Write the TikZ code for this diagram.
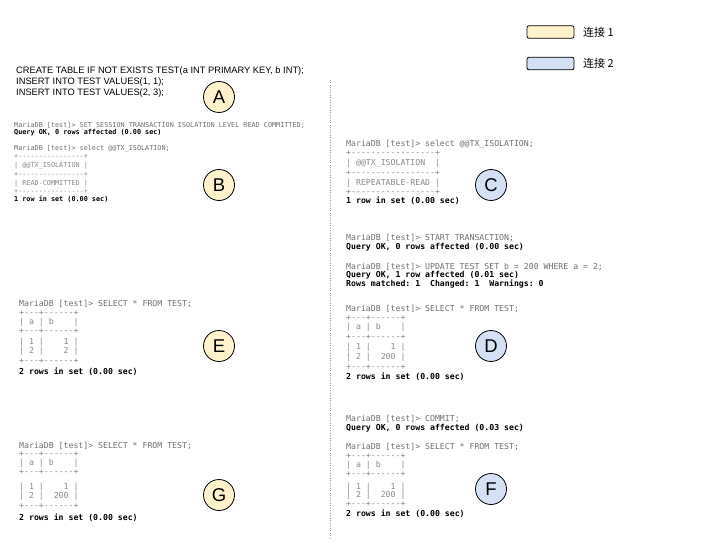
\documentclass[tikz,border=0pt]{standalone}
\usepackage{fontspec}
\setmainfont{Liberation Sans}
\setmonofont{DejaVu Sans Mono}
\newfontfamily\cjk{Noto Sans CJK SC}
\definecolor{yfill}{HTML}{FFF2CC}
\definecolor{bfill}{HTML}{D4E1F5}
\definecolor{promptc}{HTML}{707070}
\definecolor{tablec}{HTML}{8A8A8A}
\definecolor{sepc}{HTML}{999999}
\begin{document}
\begin{tikzpicture}[x=1pt,y=-1pt,
  markc/.style={circle, draw=black, line width=0.8pt, minimum size=31pt, inner sep=0pt, font=\fontsize{18.5}{18.5}\selectfont},
  conna/.style={markc, fill=yfill},
  connb/.style={markc, fill=bfill},
  legbox/.style={draw=black, line width=0.8pt, rounded corners=2pt, minimum width=47pt, minimum height=12.5pt, inner sep=0pt},
  legtext/.style={anchor=west, inner sep=0pt, font=\cjk\fontsize{11}{13}\selectfont},
  smallt/.style={anchor=west, inner sep=0pt, text height=5pt, text depth=1.4pt, font=\ttfamily\fontsize{6.8}{8}\selectfont},
  bigt/.style={anchor=west, inner sep=0pt, text height=6pt, text depth=1.7pt, font=\ttfamily\fontsize{8.2}{10}\selectfont},
  pr/.style={text=promptc},
  ok/.style={text=black, execute at begin node=\bfseries},
  tb/.style={text=tablec},
  sqlt/.style={anchor=west, inner sep=0pt, text height=6.7pt, text depth=1.9pt, font=\fontsize{9.3}{11}\selectfont},
  divider/.style={draw=sepc, line width=0.8pt, dash pattern=on 1pt off 1.5pt}]
\frenchspacing
\useasboundingbox (0,0) rectangle (720,540);
\fill[white] (0,0) rectangle (720,540);

% legend
\node[legbox, fill=yfill] (leg1) at (550.5,32) {};
\node[legtext] (leg1t) at (583,32) {连接 1};
\node[legbox, fill=bfill] (leg2) at (550.5,63.5) {};
\node[legtext] (leg2t) at (583,63.5) {连接 2};

% divider
\coordinate (divtop) at (330,80);
\coordinate (divbot) at (330,540);
\draw[divider] (divtop) -- (divbot);

% A
\node[sqlt] (sql1) at (16,71) {CREATE TABLE IF NOT EXISTS TEST(a INT PRIMARY KEY, b INT);};
\node[sqlt] (sql2) at (16,82) {INSERT INTO TEST VALUES(1, 1);};
\node[sqlt] (sql3) at (16,93) {INSERT INTO TEST VALUES(2, 3);};

% B block
\foreach \y/\s/\t [count=\i] in {
  126/pr/{MariaDB [test]> SET SESSION TRANSACTION ISOLATION LEVEL READ COMMITTED;},
  133/ok/{Query OK, 0 rows affected (0.00 sec)},
  148.5/pr/{MariaDB [test]> select @@TX\_ISOLATION;},
  157/tb/{+----------------+},
  166/tb/{| @@TX\_ISOLATION |},
  174.5/tb/{+----------------+},
  184/tb/{| READ-COMMITTED |},
  191.5/tb/{+----------------+},
  200/ok/{1 row in set (0.00 sec)}}
  \node[smallt,\s] (b\i) at (14,\y) {\t};

% C block
\foreach \y/\s/\t [count=\i] in {
  144/pr/{MariaDB [test]> select @@TX\_ISOLATION;},
  153/tb/{+-----------------+},
  163/tb/{| @@TX\_ISOLATION~~|},
  173/tb/{+-----------------+},
  183/tb/{| REPEATABLE-READ |},
  192/tb/{+-----------------+},
  201/ok/{1 row in set (0.00 sec)},
  238.5/pr/{MariaDB [test]> START TRANSACTION;},
  247/ok/{Query OK, 0 rows affected (0.00 sec)},
  267/pr/{MariaDB [test]> UPDATE TEST SET b = 200 WHERE a = 2;},
  275.5/ok/{Query OK, 1 row affected (0.01 sec)},
  284.5/ok/{Rows matched: 1~~Changed: 1~~Warnings: 0}}
  \node[bigt,\s] (c\i) at (346,\y) {\t};

% D block
\foreach \y/\s/\t [count=\i] in {
  309/pr/{MariaDB [test]> SELECT * FROM TEST;},
  318/tb/{+---+------+},
  327/tb/{| a | b~~~~|},
  337/tb/{+---+------+},
  347/tb/{| 1 |~~~~1 |},
  357/tb/{| 2 |~~200 |},
  367/tb/{+---+------+},
  377.5/ok/{2 rows in set (0.00 sec)}}
  \node[bigt,\s] (d\i) at (346,\y) {\t};

% E block
\foreach \y/\s/\t [count=\i] in {
  304/pr/{MariaDB [test]> SELECT * FROM TEST;},
  313/tb/{+---+------+},
  322/tb/{| a | b~~~~|},
  331/tb/{+---+------+},
  342/tb/{| 1 |~~~~1 |},
  351/tb/{| 2 |~~~~2 |},
  361/tb/{+---+------+},
  372.5/ok/{2 rows in set (0.00 sec)}}
  \node[bigt,\s] (e\i) at (19,\y) {\t};

% F block
\foreach \y/\s/\t [count=\i] in {
  419/pr/{MariaDB [test]> COMMIT;},
  428/ok/{Query OK, 0 rows affected (0.03 sec)},
  447/pr/{MariaDB [test]> SELECT * FROM TEST;},
  456/tb/{+---+------+},
  465/tb/{| a | b~~~~|},
  474/tb/{+---+------+},
  487/tb/{| 1 |~~~~1 |},
  495.5/tb/{| 2 |~~200 |},
  504/tb/{+---+------+},
  514/ok/{2 rows in set (0.00 sec)}}
  \node[bigt,\s] (f\i) at (346,\y) {\t};

% G block
\foreach \y/\s/\t [count=\i] in {
  446/pr/{MariaDB [test]> SELECT * FROM TEST;},
  454.5/tb/{+---+------+},
  463.5/tb/{| a | b~~~~|},
  472.5/tb/{+---+------+},
  487.5/tb/{| 1 |~~~~1 |},
  496.5/tb/{| 2 |~~200 |},
  506/tb/{+---+------+},
  518/ok/{2 rows in set (0.00 sec)}}
  \node[bigt,\s] (g\i) at (19,\y) {\t};

% markers
\node[conna] (mA) at (219,97) {A};
\node[conna] (mB) at (219,185) {B};
\node[connb] (mC) at (491,185) {C};
\node[connb] (mD) at (491,346) {D};
\node[conna] (mE) at (219,346) {E};
\node[connb] (mF) at (491,489) {F};
\node[conna] (mG) at (219,495) {G};
\end{tikzpicture}
\end{document}
